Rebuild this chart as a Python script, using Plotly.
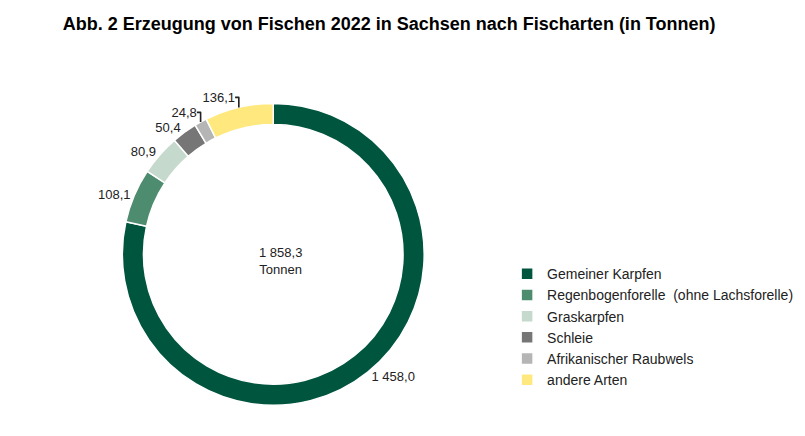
import plotly.graph_objects as go

categories = ["Gemeiner Karpfen", "Regenbogenforelle  (ohne Lachsforelle)", "Graskarpfen",
              "Schleie", "Afrikanischer Raubwels", "andere Arten"]
values = [1458.0, 108.1, 80.9, 50.4, 24.8, 136.1]
labels_de = ["1 458,0", "108,1", "80,9", "50,4", "24,8", "136,1"]
colors = ["#00553E", "#4E8C70", "#C5D9CD", "#767676", "#B5B5B5", "#FFE97F"]
total_label = "1 858,3<br>Tonnen"

fig = go.Figure(go.Pie(
    labels=categories, values=values, text=labels_de, texttemplate="%{text}",
    textposition="outside", textfont=dict(size=13, color="#222"),
    hole=0.86, sort=False, direction="clockwise", rotation=0,
    marker=dict(colors=colors, line=dict(color="white", width=1.5)),
    domain=dict(x=[0.142, 0.517], y=[0.08, 0.79]),
    hoverinfo="label+value",
))
fig.update_layout(
    width=805, height=436, margin=dict(l=0, r=0, t=0, b=0),
    paper_bgcolor="white", font=dict(family="Liberation Sans, Arial", size=13, color="#222"),
    title=dict(text="<b>Abb. 2 Erzeugung von Fischen 2022 in Sachsen nach Fischarten (in Tonnen)</b>",
               x=0.068, xanchor="left", y=0.965, yanchor="middle", font=dict(size=18, color="black")),
    legend=dict(x=0.62, y=0.268, xanchor="left", yanchor="middle", font=dict(size=14),
                itemwidth=30, tracegroupgap=0, traceorder="normal"),
    annotations=[dict(text=total_label, x=0.339, y=0.42, xref="paper", yref="paper",
                      showarrow=False, font=dict(size=13, color="#222"))],
)
fig.write_html("out.html")
